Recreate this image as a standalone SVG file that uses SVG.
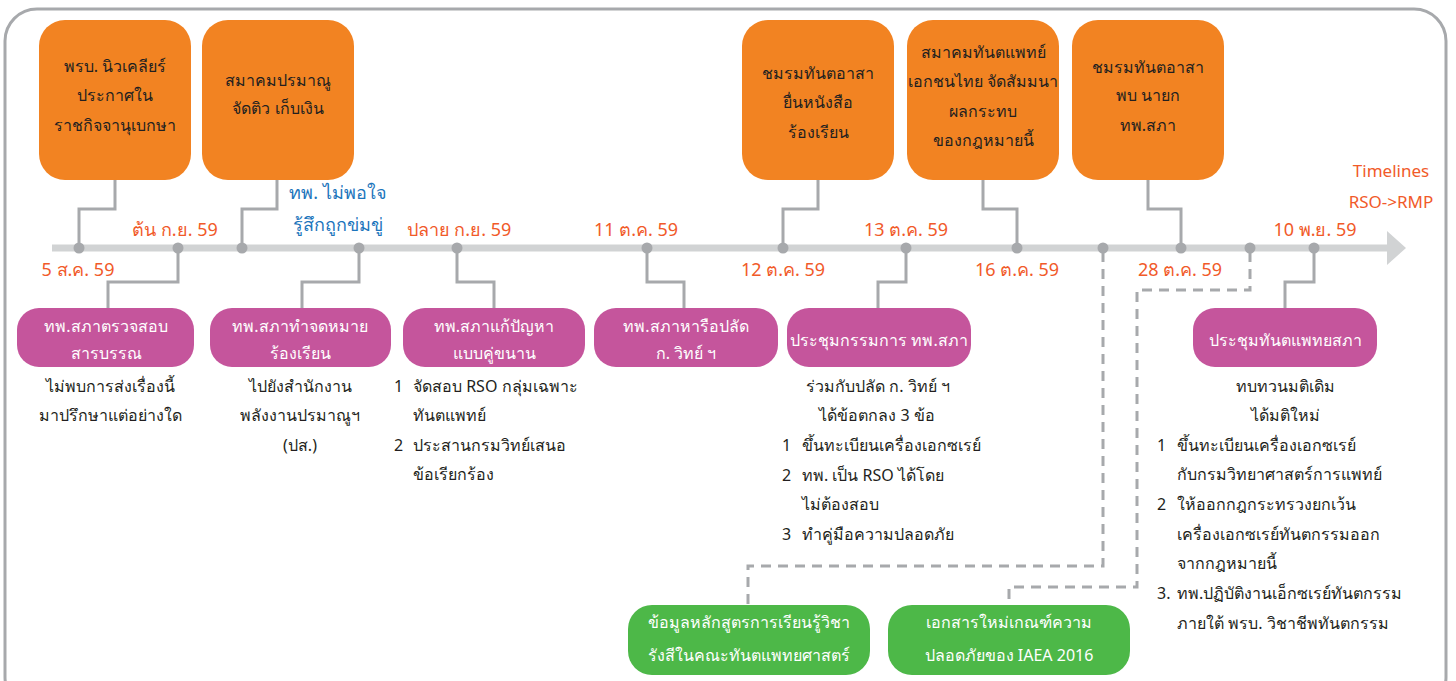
<svg xmlns="http://www.w3.org/2000/svg" width="1456" height="681" viewBox="0 0 1456 681">
<defs>
<style>
.t{font-family:"Noto Sans","Liberation Sans",sans-serif;}
.ob{fill:#F28322;}
.pb{fill:#C5559C;}
.gb{fill:#4DB848;}
.ot{font-size:16px;fill:#231F20;text-anchor:middle;}
.pt{font-size:16px;fill:#FFFFFF;text-anchor:middle;}
.bt{font-size:16px;fill:#231F20;}
.c{text-anchor:middle;}
.dt{font-size:18px;fill:#F15A29;text-anchor:middle;}
.blue{font-size:18px;fill:#1C75BC;text-anchor:middle;}
.ln{fill:none;stroke:#A7A9AC;stroke-width:3;}
.dl{fill:none;stroke:#A7A9AC;stroke-width:3;stroke-dasharray:10 7;}
.dot{fill:#A7A9AC;}
</style>
</defs>
<rect x="5" y="9" width="1441" height="700" rx="32" fill="#FFFFFF" stroke="#A7A9AC" stroke-width="3"/>
<g id="timeline">
<line x1="52" y1="248" x2="1390" y2="248" stroke="#D1D3D4" stroke-width="7"/>
<polygon points="1387,231 1406,248 1387,265" fill="#D1D3D4"/>
</g>
<g id="connectors">
<polyline class="ln" points="115,180 115,209 79,209 79,248"/>
<polyline class="ln" points="277,180 277,209 242,209 242,248"/>
<polyline class="ln" points="818,180 818,209 783,209 783,248"/>
<polyline class="ln" points="983,180 983,209 1017,209 1017,248"/>
<polyline class="ln" points="1148,180 1148,209 1181,209 1181,248"/>
<polyline class="ln" points="178,248 178,282 108,282 108,308"/>
<polyline class="ln" points="359,248 359,282 302,282 302,308"/>
<polyline class="ln" points="457,248 457,282 494,282 494,308"/>
<polyline class="ln" points="647,248 647,282 684,282 684,308"/>
<polyline class="ln" points="906,248 906,282 878,282 878,308"/>
<polyline class="ln" points="1314,248 1314,282 1285,282 1285,308"/>
<polyline class="dl" points="1103,252 1103,566 748,566 748,605"/>
<polyline class="dl" points="1250,252 1250,290 1137,290 1137,587 1009,587 1009,605"/>
<circle class="dot" cx="79" cy="248" r="5.5"/>
<circle class="dot" cx="178" cy="248" r="5.5"/>
<circle class="dot" cx="242" cy="248" r="5.5"/>
<circle class="dot" cx="359" cy="248" r="5.5"/>
<circle class="dot" cx="457" cy="248" r="5.5"/>
<circle class="dot" cx="647" cy="248" r="5.5"/>
<circle class="dot" cx="783" cy="248" r="5.5"/>
<circle class="dot" cx="906" cy="248" r="5.5"/>
<circle class="dot" cx="1017" cy="248" r="5.5"/>
<circle class="dot" cx="1103" cy="248" r="5.5"/>
<circle class="dot" cx="1181" cy="248" r="5.5"/>
<circle class="dot" cx="1250" cy="248" r="5.5"/>
<circle class="dot" cx="1314" cy="248" r="5.5"/>
</g>
<g id="dates" class="t">
<text class="dt" x="78" y="276">5 ส.ค. 59</text>
<text class="dt" x="175" y="236">ต้น ก.ย. 59</text>
<text class="dt" x="459" y="236">ปลาย ก.ย. 59</text>
<text class="dt" x="636" y="236">11 ต.ค. 59</text>
<text class="dt" x="783" y="276">12 ต.ค. 59</text>
<text class="dt" x="906" y="236">13 ต.ค. 59</text>
<text class="dt" x="1017" y="276">16 ต.ค. 59</text>
<text class="dt" x="1180" y="276">28 ต.ค. 59</text>
<text class="dt" x="1315" y="236">10 พ.ย. 59</text>
<text class="t" x="1391" y="177" font-size="17" fill="#F15A29" text-anchor="middle">Timelines</text>
<text class="t" x="1391" y="208" font-size="17" fill="#F15A29" text-anchor="middle">RSO-&gt;RMP</text>
</g>
<g id="note-blue" class="t">
<text class="blue" x="338" y="199">ทพ. ไม่พอใจ</text>
<text class="blue" x="338" y="231">รู้สึกถูกข่มขู่</text>
</g>
<g id="o1" class="t">
<rect class="ob" x="39" y="20" width="152" height="160" rx="26"/>
<text class="ot" x="115" y="72">พรบ. นิวเคลียร์</text>
<text class="ot" x="115" y="101">ประกาศใน</text>
<text class="ot" x="115" y="131">ราชกิจจานุเบกษา</text>
</g>
<g id="o2" class="t">
<rect class="ob" x="202" y="20" width="152" height="160" rx="26"/>
<text class="ot" x="278" y="86">สมาคมปรมาณู</text>
<text class="ot" x="278" y="114">จัดติว เก็บเงิน</text>
</g>
<g id="o3" class="t">
<rect class="ob" x="742" y="20" width="152" height="160" rx="26"/>
<text class="ot" x="818" y="79">ชมรมทันตอาสา</text>
<text class="ot" x="818" y="108">ยื่นหนังสือ</text>
<text class="ot" x="818" y="138">ร้องเรียน</text>
</g>
<g id="o4" class="t">
<rect class="ob" x="907" y="20" width="152" height="160" rx="26"/>
<text class="ot" x="983" y="58">สมาคมทันตแพทย์</text>
<text class="ot" x="983" y="87">เอกชนไทย จัดสัมมนา</text>
<text class="ot" x="983" y="117">ผลกระทบ</text>
<text class="ot" x="983" y="146">ของกฎหมายนี้</text>
</g>
<g id="o5" class="t">
<rect class="ob" x="1072" y="20" width="152" height="160" rx="26"/>
<text class="ot" x="1148" y="73">ชมรมทันตอาสา</text>
<text class="ot" x="1148" y="101">พบ นายก</text>
<text class="ot" x="1148" y="131">ทพ.สภา</text>
</g>
<g id="p1" class="t">
<rect class="pb" x="17" y="308" width="177" height="59" rx="22"/>
<text class="pt" x="106" y="332">ทพ.สภาตรวจสอบ</text>
<text class="pt" x="106" y="359">สารบรรณ</text>
<text class="bt c" x="110" y="392">ไม่พบการส่งเรื่องนี้</text>
<text class="bt c" x="110" y="421">มาปรึกษาแต่อย่างใด</text>
</g>
<g id="p2" class="t">
<rect class="pb" x="210" y="308" width="181" height="59" rx="22"/>
<text class="pt" x="300" y="332">ทพ.สภาทำจดหมาย</text>
<text class="pt" x="300" y="359">ร้องเรียน</text>
<text class="bt c" x="300" y="392">ไปยังสำนักงาน</text>
<text class="bt c" x="300" y="421">พลังงานปรมาณูฯ</text>
<text class="bt c" x="300" y="451">(ปส.)</text>
</g>
<g id="p3" class="t">
<rect class="pb" x="403" y="308" width="182" height="59" rx="22"/>
<text class="pt" x="494" y="332">ทพ.สภาแก้ปัญหา</text>
<text class="pt" x="494" y="359">แบบคู่ขนาน</text>
<text class="bt" x="394" y="392">1</text>
<text class="bt" x="413" y="392">จัดสอบ RSO กลุ่มเฉพาะ</text>
<text class="bt" x="413" y="421">ทันตแพทย์</text>
<text class="bt" x="394" y="451">2</text>
<text class="bt" x="413" y="451">ประสานกรมวิทย์เสนอ</text>
<text class="bt" x="413" y="480">ข้อเรียกร้อง</text>
</g>
<g id="p4" class="t">
<rect class="pb" x="594" y="308" width="184" height="59" rx="22"/>
<text class="pt" x="686" y="332">ทพ.สภาหารือปลัด</text>
<text class="pt" x="686" y="359">ก. วิทย์ ฯ</text>
</g>
<g id="p5" class="t">
<rect class="pb" x="787" y="308" width="184" height="59" rx="22"/>
<text class="pt" x="879" y="346">ประชุมกรรมการ ทพ.สภา</text>
<text class="bt c" x="878" y="392">ร่วมกับปลัด ก. วิทย์ ฯ</text>
<text class="bt c" x="877" y="421">ได้ข้อตกลง 3 ข้อ</text>
<text class="bt" x="782" y="451">1</text>
<text class="bt" x="802" y="451">ขึ้นทะเบียนเครื่องเอกซเรย์</text>
<text class="bt" x="782" y="481">2</text>
<text class="bt" x="802" y="481">ทพ. เป็น RSO ได้โดย</text>
<text class="bt" x="802" y="510">ไม่ต้องสอบ</text>
<text class="bt" x="782" y="540">3</text>
<text class="bt" x="802" y="540">ทำคู่มือความปลอดภัย</text>
</g>
<g id="p6" class="t">
<rect class="pb" x="1193" y="308" width="184" height="59" rx="22"/>
<text class="pt" x="1285" y="346">ประชุมทันตแพทยสภา</text>
<text class="bt c" x="1285" y="392">ทบทวนมติเดิม</text>
<text class="bt c" x="1285" y="421">ได้มติใหม่</text>
<text class="bt" x="1157" y="451">1</text>
<text class="bt" x="1177" y="451">ขึ้นทะเบียนเครื่องเอกซเรย์</text>
<text class="bt" x="1177" y="480">กับกรมวิทยาศาสตร์การแพทย์</text>
<text class="bt" x="1157" y="510">2</text>
<text class="bt" x="1177" y="510">ให้ออกกฎกระทรวงยกเว้น</text>
<text class="bt" x="1177" y="540">เครื่องเอกซเรย์ทันตกรรมออก</text>
<text class="bt" x="1177" y="569">จากกฎหมายนี้</text>
<text class="bt" x="1157" y="599">3.</text>
<text class="bt" x="1177" y="599">ทพ.ปฏิบัติงานเอ็กซเรย์ทันตกรรม</text>
<text class="bt" x="1177" y="629">ภายใต้ พรบ. วิชาชีพทันตกรรม</text>
</g>
<g id="g1" class="t">
<rect class="gb" x="628" y="605" width="242" height="70" rx="24"/>
<text class="pt" x="749" y="628">ข้อมูลหลักสูตรการเรียนรู้วิชา</text>
<text class="pt" x="749" y="661">รังสีในคณะทันตแพทยศาสตร์</text>
</g>
<g id="g2" class="t">
<rect class="gb" x="888" y="605" width="242" height="70" rx="24"/>
<text class="pt" x="1009" y="628">เอกสารใหม่เกณฑ์ความ</text>
<text class="pt" x="1009" y="661">ปลอดภัยของ IAEA 2016</text>
</g>
</svg>
